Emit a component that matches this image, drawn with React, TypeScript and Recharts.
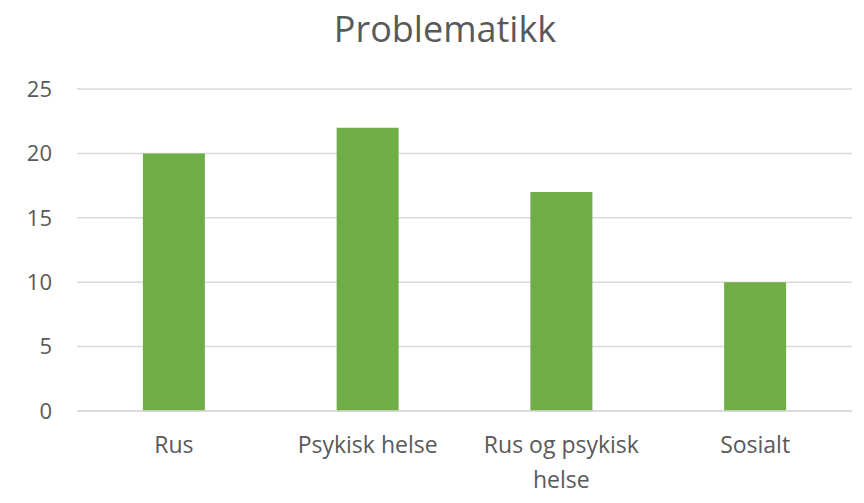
import React from 'react';
import { BarChart, Bar, XAxis, YAxis, CartesianGrid } from 'recharts';

const categories = ['Rus', 'Psykisk helse', 'Rus og psykisk helse', 'Sosialt'];
const values = [20, 22, 17, 10];
const yTicks = [0, 5, 10, 15, 20, 25];
const title = 'Problematikk';

const data = categories.map((name, i) => ({ name, value: values[i] }));

const FONT = '"Open Sans", sans-serif';
const GREY = '#595959';
const LABEL_SIZE = 23;
const MAX_CHARS = 14;

function wrapLabel(label: string): string[] {
  const words = label.split(' ');
  const lines: string[] = [];
  let cur = '';
  for (const w of words) {
    const next = cur ? cur + ' ' + w : w;
    if (next.length > MAX_CHARS && cur) {
      lines.push(cur);
      cur = w;
    } else {
      cur = next;
    }
  }
  if (cur) lines.push(cur);
  return lines;
}

const CatTick = (props: any) => {
  const { x, y, payload } = props;
  const lines = wrapLabel(String(payload.value));
  return (
    <text
      x={x}
      y={y + 34}
      textAnchor="middle"
      fill={GREY}
      fontSize={LABEL_SIZE}
      fontFamily={FONT}
    >
      {lines.map((ln, i) => (
        <tspan key={i} x={x} dy={i === 0 ? 0 : 35}>
          {ln}
        </tspan>
      ))}
    </text>
  );
};

export default function App() {
  return (
    <div style={{ position: 'absolute', left: 0, top: 0, width: 864, height: 503, background: '#fff' }}>
      <div
        style={{
          position: 'absolute',
          left: 0,
          top: 5,
          width: 890,
          textAlign: 'center',
          fontFamily: FONT,
          fontSize: 36,
          color: GREY,
          lineHeight: '48px',
        }}
      >
        {title}
      </div>
      <BarChart
        width={864}
        height={503}
        data={data}
        margin={{ top: 89, right: 12, bottom: 0, left: 0 }}
        barCategoryGap="34%"
      >
        <CartesianGrid vertical={false} stroke="#D9D9D9" strokeWidth={1.5} />
        <YAxis
          width={77}
          domain={[0, 25]}
          ticks={yTicks}
          tickLine={false}
          axisLine={false}
          tickMargin={19}
          tick={{ fill: GREY, fontSize: 22, fontFamily: FONT }}
        />
        <XAxis
          dataKey="name"
          height={92}
          tickLine={false}
          axisLine={{ stroke: '#D9D9D9', strokeWidth: 1.5 }}
          tick={<CatTick />}
          interval={0}
        />
        <Bar dataKey="value" fill="#70AD47" isAnimationActive={false} />
      </BarChart>
    </div>
  );
}
